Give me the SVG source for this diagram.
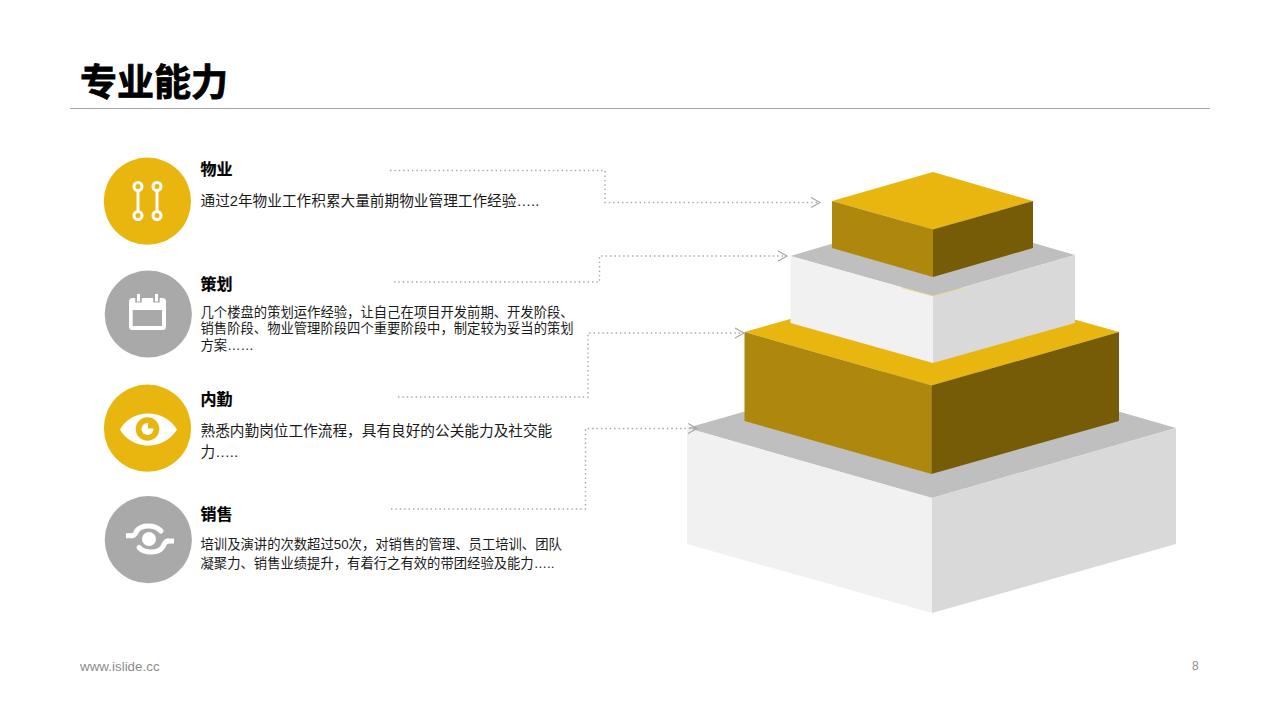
<svg xmlns="http://www.w3.org/2000/svg" width="1280" height="720" viewBox="0 0 1280 720">
<style>
text{font-family:"Liberation Sans","Noto Sans CJK SC",sans-serif;fill:#1a1a1a}
.t{font-size:37px;font-weight:700;fill:#000;stroke:#000;stroke-width:.8}
.h{font-size:16px;font-weight:700;fill:#000;stroke:#000;stroke-width:.2}
.b14{font-size:14.67px}
.b13{font-size:13.33px}
.f{font-size:13.4px;fill:#8c8c8c}
.c{fill:none;stroke:#a6a6a6;stroke-width:1.4;stroke-dasharray:1.4 3}
.ah{fill:none;stroke:#a6a6a6;stroke-width:1.2}
.ic{fill:none;stroke:#fff;stroke-width:3}
.sy{fill:none;stroke:#fff;stroke-width:5;stroke-linecap:round}
.st{fill:#fff}
.y{fill:#e9b610}.g{fill:#a9a9a9}
.yl{fill:#ae870d}.yd{fill:#775c07}
.wt{fill:#bfbfbf}.wl{fill:#f1f1f1}.wd{fill:#d9d9d9}
</style>
<rect width="1280" height="720" fill="#fff"/>
<g id="header">
<text class="t" x="80" y="96">专业能力</text>
<line x1="70" y1="108.5" x2="1210" y2="108.5" stroke="#a6a6a6" stroke-width="1"/>
</g>
<g id="pyramid">
<g id="tier4"><polygon class="wt" points="932,358 1176,428 932,498 687,428"/><polygon class="wl" points="687,428 932,498 932,613 687,544"/><polygon class="wd" points="932,498 1176,428 1176,544 932,613"/></g>
<g id="tier3"><polygon class="y" points="931.5,279 1119,332 931.5,385.5 744.5,332"/><polygon class="yl" points="744.5,332 931.5,385.5 931.5,474 744.5,421"/><polygon class="yd" points="931.5,385.5 1119,332 1119,421 931.5,474"/></g>
<g id="tier2"><polygon class="wt" points="933,214 1075,255 933,296 790.5,256"/><polygon class="wl" points="790.5,256 933,296 933,363 790.5,323"/><polygon class="wd" points="933,296 1075,255 1075,323 933,363"/><polyline points="902,288 933,296 965,288" fill="none" stroke="#f0d98a" stroke-width=".7"/></g>
<g id="tier1"><polygon class="y" points="933,172 1033,201 933,229.5 832,201"/><polygon class="yl" points="832,201 933,229.5 933,277 832,248"/><polygon class="yd" points="933,229.5 1033,201 1033,248 933,277"/></g>
</g>
<g id="connectors">
<polyline class="c" points="390,170.5 605,170.5 605,202.5 819,202.5"/><polyline class="ah" points="811,197.5 820,202.5 811,207.5"/>
<polyline class="c" points="394,282 599.5,282 599.5,256 786,256"/><polyline class="ah" points="778,251 787,256 778,261"/>
<polyline class="c" points="398,397 588,397 588,333 743,333"/><polyline class="ah" points="735,328 744,333 735,338"/>
<polyline class="c" points="391,509 585.5,509 585.5,428.5 696,428.5"/><polyline class="ah" points="688,423.5 697,428.5 688,433.5"/>
</g>
<g id="node-wuye">
<circle class="y" cx="147.4" cy="201.2" r="43.6"/>
<g class="ic"><circle cx="138" cy="186.5" r="4"/><circle cx="157" cy="186.5" r="4"/><circle cx="138" cy="215.5" r="4"/><circle cx="157" cy="215.5" r="4"/><line x1="138" y1="190.5" x2="138" y2="211.5"/><line x1="157" y1="190.5" x2="157" y2="211.5"/></g>
<text class="h" x="200.5" y="175">物业</text>
<text class="b14" x="200.5" y="206">通过2年物业工作积累大量前期物业管理工作经验…..</text>
</g>
<g id="node-cehua">
<circle class="g" cx="148.3" cy="314" r="43.6"/>
<rect x="129" y="298" width="37" height="32" rx="3.5" fill="#fff"/>
<rect x="132.7" y="310" width="29.3" height="16" class="g"/>
<rect x="135.2" y="294" width="6.5" height="8.5" class="g"/><rect x="153.2" y="294" width="6.5" height="8.5" class="g"/>
<rect x="137" y="294" width="3" height="7.5" fill="#fff"/><rect x="155" y="294" width="3" height="7.5" fill="#fff"/>
<text class="h" x="200.5" y="290">策划</text>
<text class="b13"><tspan x="200.5" y="317">几个楼盘的策划运作经验，让自己在项目开发前期、开发阶段、</tspan><tspan x="200.5" y="333">销售阶段、物业管理阶段四个重要阶段中，制定较为妥当的策划</tspan><tspan x="200.5" y="350">方案……</tspan></text>
</g>
<g id="node-neiqin">
<circle class="y" cx="147.5" cy="428.2" r="43.6"/>
<path d="M120,429.5 C132,408 164,408 177,429.5 C164,451 132,451 120,429.5Z" fill="#fff"/>
<circle cx="147.5" cy="429" r="11.8" class="y"/>
<circle cx="147.5" cy="429" r="6" fill="#fff"/>
<path d="M148,428.5 V421.5 H155 V428.5Z" class="y"/>
<text class="h" x="200.5" y="405">内勤</text>
<text class="b14"><tspan x="200.5" y="436">熟悉内勤岗位工作流程，具有良好的公关能力及社交能</tspan><tspan x="200.5" y="457">力…..</tspan></text>
</g>
<g id="node-xiaoshou">
<circle class="g" cx="148.3" cy="539.7" r="43.6"/>
<circle cx="149" cy="539" r="7" fill="#fff"/>
<rect x="126" y="533.2" width="7" height="5" class="st"/><rect x="167" y="538.6" width="7" height="5" class="st"/>
<path class="sy" d="M132,535.7 C135,535.7 136,532 137,530.5 C141,524.5 155,524 161,531"/>
<path class="sy" d="M168,541.1 C165,541.1 164,545 163,546.5 C159,553.5 145,554 139,547.5"/>
<text class="h" x="200.5" y="520">销售</text>
<text class="b13"><tspan x="200.5" y="549">培训及演讲的次数超过50次，对销售的管理、员工培训、团队</tspan><tspan x="200.5" y="568">凝聚力、销售业绩提升，有着行之有效的带团经验及能力…..</tspan></text>
</g>
<g id="footer">
<text class="f" x="80" y="671">www.islide.cc</text>
<text x="1192" y="670" style="font-size:12px;fill:#8c8c8c">8</text>
</g>
</svg>
